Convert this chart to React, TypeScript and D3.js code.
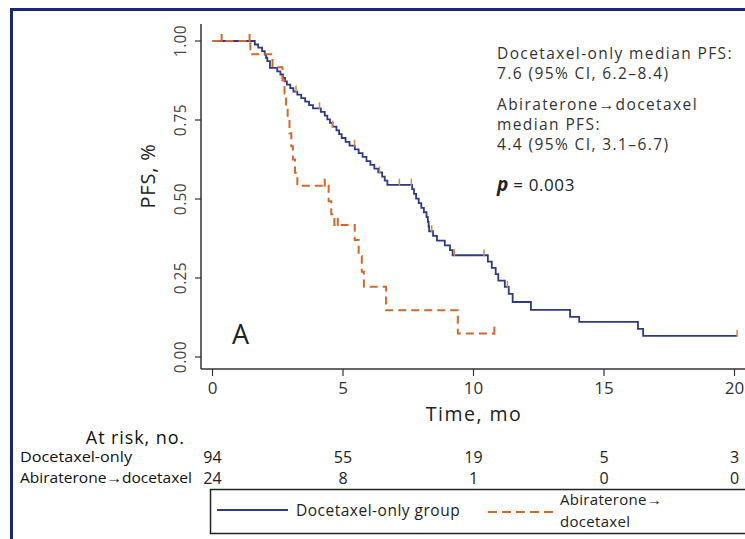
import React from "react";
import * as d3 from "d3";

// ---- data ----
const docTimes = [0, 1.62, 1.75, 1.9, 2.0, 2.05, 2.1, 2.2, 2.48, 2.6, 2.7, 2.78, 2.85, 2.98, 3.1, 3.25, 3.4, 3.55, 3.7, 3.85, 4.15, 4.3, 4.4, 4.5, 4.6, 4.75, 4.85, 4.95, 5.1, 5.25, 5.45, 5.6, 5.75, 5.9, 6.05, 6.2, 6.35, 6.5, 6.6, 6.7, 7.65, 7.72, 7.8, 7.9, 8.0, 8.1, 8.2, 8.25, 8.28, 8.3, 8.45, 8.6, 8.9, 9.1, 9.2, 10.55, 10.7, 10.85, 10.95, 11.2, 11.35, 11.5, 12.2, 13.7, 14.05, 16.3, 16.5, 20.1];
const docSurv = [1.0, 0.989, 0.979, 0.968, 0.957, 0.947, 0.936, 0.915, 0.904, 0.894, 0.883, 0.872, 0.862, 0.851, 0.84, 0.83, 0.819, 0.808, 0.797, 0.787, 0.776, 0.764, 0.752, 0.741, 0.729, 0.717, 0.705, 0.693, 0.681, 0.669, 0.657, 0.645, 0.633, 0.62, 0.608, 0.596, 0.584, 0.571, 0.558, 0.545, 0.531, 0.516, 0.501, 0.487, 0.472, 0.458, 0.443, 0.428, 0.413, 0.398, 0.383, 0.368, 0.353, 0.338, 0.322, 0.302, 0.282, 0.262, 0.242, 0.222, 0.2, 0.174, 0.149, 0.127, 0.111, 0.089, 0.067, 0.067];
const docCensor = [3.2, 4.1, 4.6, 5.44, 6.4, 7.16, 7.62, 8.4, 9.27, 10.4, 11.3, 20.1];

const abiTimes = [0, 1.45, 2.3, 2.68, 2.76, 2.82, 2.88, 2.95, 3.02, 3.08, 3.16, 3.25, 4.45, 4.55, 4.67, 5.45, 5.6, 5.72, 5.8, 6.65, 9.4, 10.8];
const abiSurv = [1.0, 0.958, 0.917, 0.875, 0.833, 0.792, 0.75, 0.708, 0.667, 0.625, 0.583, 0.542, 0.493, 0.452, 0.418, 0.37, 0.32, 0.27, 0.222, 0.148, 0.074, 0.074];
const abiCensor = [0.35, 1.42, 4.3, 4.8, 10.8];

const xTicks = [0, 5, 10, 15, 20];
const yTicks = [0, 0.25, 0.5, 0.75, 1.0];
const riskGroups = ["Docetaxel-only", "Abiraterone\u2192docetaxel"];
const riskDoc = [94, 55, 19, 5, 3];
const riskAbi = [24, 8, 1, 0, 0];
const annotLines = [
  "Docetaxel-only median PFS:",
  "7.6 (95% CI, 6.2\u20138.4)",
  "Abiraterone\u2192docetaxel",
  "median PFS:",
  "4.4 (95% CI, 3.1\u20136.7)",
];
const legendLabels = ["Docetaxel-only group", "Abiraterone\u2192", "docetaxel"];

const BLUE = "#2e3a86";
const ORANGE = "#d0692a";
const TICKCOL = "#d08a4a";
const FRAME = "#17296e";
const FONT = "'Open Sans', sans-serif";

export default function App() {
  const x = d3.scaleLinear().domain([0, 20]).range([212.5, 734.5]);
  const y = d3.scaleLinear().domain([0, 1]).range([357, 41]);
  const line = d3
    .line<[number, number]>()
    .x((d) => x(d[0]))
    .y((d) => y(d[1]))
    .curve(d3.curveStepAfter);

  const docPts: [number, number][] = docTimes.map((t, i) => [t, docSurv[i]]);
  const abiPts: [number, number][] = abiTimes.map((t, i) => [t, abiSurv[i]]);

  const survAt = (times: number[], surv: number[], t: number) => {
    const i = d3.bisectRight(times, t) - 1;
    return surv[Math.max(0, i)];
  };

  const axisY0 = 369;
  const axisX0 = 201;

  return (
    <svg
      width={745}
      height={539}
      style={{ position: "absolute", left: 0, top: 0, background: "#fff" }}
      fontFamily={FONT}
    >
      <rect x={0} y={0} width={745} height={539} fill="#fff" />
      {/* frame */}
      <rect x={11.5} y={9.5} width={800} height={600} fill="none" stroke={FRAME} strokeWidth={3} />

      {/* axes */}
      <line x1={axisX0} y1={24} x2={axisX0} y2={axisY0} stroke="#333" strokeWidth={1.5} />
      <line x1={axisX0} y1={axisY0} x2={745} y2={axisY0} stroke="#333" strokeWidth={1.5} />
      {yTicks.map((v) => (
        <g key={"y" + v}>
          <line x1={axisX0 - 6} x2={axisX0} y1={y(v)} y2={y(v)} stroke="#333" strokeWidth={1.2} />
          <text
            transform={`translate(${186},${y(v)}) rotate(-90)`}
            textAnchor="middle"
            fontSize={15.5}
            letterSpacing={0.4}
            fill="#444"
          >
            {v.toFixed(2)}
          </text>
        </g>
      ))}
      {xTicks.map((v) => (
        <g key={"x" + v}>
          <line x1={x(v)} x2={x(v)} y1={axisY0} y2={axisY0 + 7} stroke="#333" strokeWidth={1.2} />
          <text x={x(v)} y={394} textAnchor="middle" fontSize={17} fill="#333">
            {v}
          </text>
        </g>
      ))}
      <text transform="translate(155,176) rotate(-90)" textAnchor="middle" fontSize={20} letterSpacing={0.8} fill="#222">
        PFS, %
      </text>
      <text x={474} y={421} textAnchor="middle" fontSize={19.5} letterSpacing={1.5} fill="#222">
        Time, mo
      </text>

      {/* curves */}
      <path d={line(docPts) || ""} fill="none" stroke={BLUE} strokeWidth={1.8} />
      <path
        d={line(abiPts) || ""}
        fill="none"
        stroke={ORANGE}
        strokeWidth={2}
        strokeDasharray="8,5"
      />
      {docCensor.map((t, i) => {
        const s = survAt(docTimes, docSurv, t);
        return <line key={"dc" + i} x1={x(t)} x2={x(t)} y1={y(s) - 6} y2={y(s) + 1} stroke={TICKCOL} strokeWidth={1.5} />;
      })}
      {abiCensor.map((t, i) => {
        const s = survAt(abiTimes, abiSurv, t);
        return <line key={"ac" + i} x1={x(t)} x2={x(t)} y1={y(s) - 7} y2={y(s) + 1} stroke={ORANGE} strokeWidth={2} />;
      })}

      {/* panel letter */}
      <text x={232} y={344} fontSize={27} fill="#222">A</text>

      {/* annotation */}
      {annotLines.map((s, i) => (
        <text key={"an" + i} x={497} y={[59, 79, 110, 130, 150][i]} fontSize={15.5} letterSpacing={1.4} fill="#333">
          {s}
        </text>
      ))}
      <text x={497} y={191} fontSize={17} fill="#222">
        <tspan fontStyle="italic" fontWeight="bold" fontSize={19}>p</tspan>
        <tspan letterSpacing={0.6}> = 0.003</tspan>
      </text>

      {/* at risk table */}
      <text x={185} y={444} textAnchor="end" fontSize={18} letterSpacing={0.9} fill="#111">At risk, no.</text>
      <text x={20} y={462} fontSize={15} textLength={112} lengthAdjust="spacingAndGlyphs" fill="#111">{riskGroups[0]}</text>
      <text x={20} y={483} fontSize={15} textLength={172} lengthAdjust="spacingAndGlyphs" fill="#111">{riskGroups[1]}</text>
      {xTicks.map((v, i) => (
        <g key={"r" + v}>
          <text x={x(v)} y={463} textAnchor="middle" fontSize={16} fill="#222">{riskDoc[i]}</text>
          <text x={x(v)} y={484} textAnchor="middle" fontSize={16} fill="#222">{riskAbi[i]}</text>
        </g>
      ))}

      {/* legend */}
      <rect x={210.5} y={489.5} width={560} height={44} fill="#fff" stroke="#222" strokeWidth={1.5} />
      <line x1={217} x2={288} y1={510} y2={510} stroke={BLUE} strokeWidth={2} />
      <text x={296} y={516} fontSize={15.5} letterSpacing={0.5} fill="#222">{legendLabels[0]}</text>
      <line x1={488} x2={553} y1={512} y2={512} stroke={ORANGE} strokeWidth={2} strokeDasharray="9,5" />
      <text x={560} y={505} fontSize={15} letterSpacing={0.3} fill="#222">{legendLabels[1]}</text>
      <text x={560} y={527} fontSize={15} letterSpacing={0.3} fill="#222">{legendLabels[2]}</text>
    </svg>
  );
}
